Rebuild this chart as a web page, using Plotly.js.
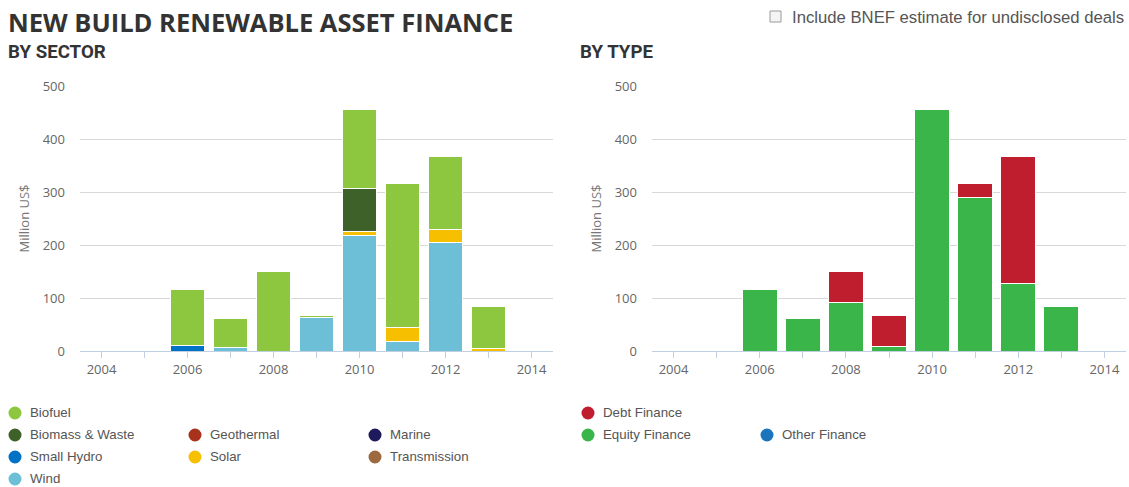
<!DOCTYPE html>
<html>
<head>
<meta charset="utf-8">
<script src="https://cdn.plot.ly/plotly-3.0.1.min.js"></script>
<style>
html,body{margin:0;padding:0;background:#fff;}
#chart{width:1129px;height:487px;}
</style>
</head>
<body>
<div id="chart"></div>
<script>
// ---------- DATA ----------
const years = [2004, 2005, 2006, 2007, 2008, 2009, 2010, 2011, 2012, 2013, 2014];

// By sector (Million US$)
const sectorNames = ["Biofuel", "Biomass & Waste", "Geothermal", "Marine", "Small Hydro", "Solar", "Transmission", "Wind"];
const sectorColors = ["#8dc63f", "#3e6129", "#a8321c", "#1f1a5e", "#0072c6", "#f6c000", "#9c6a3e", "#6cbfd6"];
const biofuel      = [null, null, 106, 55, 150, 3, 150, 271, 137, 79, null];
const biomassWaste = [null, null, null, null, null, null, 80, null, null, null, null];
const geothermal   = [null, null, null, null, null, null, null, null, null, null, null];
const marine       = [null, null, null, null, null, null, null, null, null, null, null];
const smallHydro   = [null, null, 10, null, null, null, null, null, null, null, null];
const solar        = [null, null, null, null, null, null, 8, 28, 26, 5, null];
const transmission = [null, null, null, null, null, null, null, null, null, null, null];
const wind         = [null, null, null, 6, null, 64, 218, 17, 204, null, null];
const sectorValues = [biofuel, biomassWaste, geothermal, marine, smallHydro, solar, transmission, wind];

// By type (Million US$)
const typeNames = ["Debt Finance", "Equity Finance", "Other Finance"];
const typeColors = ["#be1e2d", "#39b54a", "#1b75bc"];
const debtFinance   = [null, null, null, null, 59, 59, null, 26, 239, null, null];
const equityFinance = [null, null, 116, 61, 91, 8, 456, 290, 128, 84, null];
const otherFinance  = [null, null, null, null, null, null, null, null, null, null, null];
const typeValues = [debtFinance, equityFinance, otherFinance];

const xTickVals = [2004, 2006, 2008, 2010, 2012, 2014];
const yTickVals = [0, 100, 200, 300, 400, 500];

const mainTitle = "NEW BUILD RENEWABLE ASSET FINANCE";
const leftTitle = "BY SECTOR";
const rightTitle = "BY TYPE";
const yTitle = "Million US$";
const checkboxLabel = "Include BNEF estimate for undisclosed deals";

// ---------- LAYOUT HELPERS ----------
const W = 1129, H = 487;
const px = x => x / W;
const py = y => 1 - y / H;

const traces = [];
// Highcharts stacks first series on top -> add in reverse order
for (let i = sectorNames.length - 1; i >= 0; i--) {
  traces.push({
    type: "bar", x: years, y: sectorValues[i], name: sectorNames[i],
    marker: {color: sectorColors[i], line: {color: "#ffffff", width: 1}},
    xaxis: "x", yaxis: "y", showlegend: false, hoverinfo: "x+y+name"
  });
}
for (let i = typeNames.length - 1; i >= 0; i--) {
  traces.push({
    type: "bar", x: years, y: typeValues[i], name: typeNames[i],
    marker: {color: typeColors[i], line: {color: "#ffffff", width: 1}},
    xaxis: "x2", yaxis: "y2", showlegend: false, hoverinfo: "x+y+name"
  });
}

const tickFont = {family: "Open Sans", size: 13, color: "#666666"};

function xAxis(domain, anchor) {
  return {
    domain: domain, anchor: anchor, range: [2003.5, 2014.5],
    tickvals: xTickVals, ticktext: xTickVals.map(String),
    ticks: "outside", ticklen: 6, tickcolor: "#c0d0e0", tickwidth: 1,
    minor: {dtick: 1, tick0: 2004, ticks: "outside", ticklen: 6, tickcolor: "#c0d0e0", tickwidth: 1, showgrid: false},
    showline: true, linecolor: "#c0d0e0", linewidth: 1,
    showgrid: false, zeroline: false, tickfont: tickFont, fixedrange: true,
    ticklabelstandoff: 0
  };
}
function yAxis(domain, anchor) {
  return {
    domain: domain, anchor: anchor, range: [0, 500],
    tickvals: yTickVals, showgrid: true, gridcolor: "#d8d8d8", gridwidth: 1,
    zeroline: false, showline: false, ticks: "", tickfont: tickFont,
    ticklabelstandoff: 14, fixedrange: true,
    title: {text: yTitle, font: {family: "Open Sans", size: 13, color: "#777777"}, standoff: 10}
  };
}

const yDom = [py(351), py(86)];

const annotations = [
  {text: "<b>" + mainTitle + "</b>", x: px(6), y: py(3), xref: "paper", yref: "paper", xanchor: "left", yanchor: "top", showarrow: false,
   font: {family: "Open Sans", size: 25.5, color: "#333333", weight: 800}},
  {text: "<b>" + leftTitle + "</b>", x: px(6), y: py(39), xref: "paper", yref: "paper", xanchor: "left", yanchor: "top", showarrow: false,
   font: {family: "Roboto", size: 18.7, color: "#333333"}},
  {text: "<b>" + rightTitle + "</b>", x: px(578), y: py(39), xref: "paper", yref: "paper", xanchor: "left", yanchor: "top", showarrow: false,
   font: {family: "Roboto", size: 18.7, color: "#333333"}},
  {text: checkboxLabel, x: px(790), y: py(17), xref: "paper", yref: "paper", xanchor: "left", yanchor: "middle", showarrow: false,
   font: {family: "Liberation Sans", size: 16.7, color: "#555555"}}
];
const shapes = [
  {type: "rect", xref: "paper", yref: "paper", x0: px(770), x1: px(781), y0: py(22), y1: py(11),
   line: {color: "#9a9a9a", width: 1}, fillcolor: "#f4f4f4"}
];

// legend positions (layout only)
const sectorLegendPos = [[0,0],[0,1],[1,1],[2,1],[0,2],[1,2],[2,2],[0,3]]; // [col,row]
const leftColCircle = [15, 195, 375];
const rowY = [413, 435, 457, 479];
function addLegendItem(cx, cy, color, label) {
  const r = 6.5;
  shapes.push({type: "circle", xref: "paper", yref: "paper",
    x0: px(cx - r), x1: px(cx + r), y0: py(cy + r), y1: py(cy - r),
    fillcolor: color, line: {width: 0}});
  annotations.push({text: label, x: px(cx + 13), y: py(cy - 1), xref: "paper", yref: "paper",
    xanchor: "left", yanchor: "middle", showarrow: false,
    font: {family: "Liberation Sans", size: 13.3, color: "#555555"}});
}
sectorNames.forEach((n, i) => {
  const [c, r] = sectorLegendPos[i];
  addLegendItem(leftColCircle[c], rowY[r], sectorColors[i], n);
});
const typeLegendPos = [[0,0],[0,1],[1,1]];
const rightColCircle = [588, 767];
typeNames.forEach((n, i) => {
  const [c, r] = typeLegendPos[i];
  addLegendItem(rightColCircle[c], rowY[r], typeColors[i], n);
});

const layout = {
  width: W, height: H,
  margin: {l: 0, r: 0, t: 0, b: 0},
  paper_bgcolor: "#ffffff", plot_bgcolor: "#ffffff",
  barmode: "stack", bargap: 0.19,
  showlegend: false,
  xaxis: xAxis([px(80), px(553)], "y"),
  yaxis: yAxis(yDom, "x"),
  xaxis2: xAxis([px(652), px(1126)], "y2"),
  yaxis2: yAxis(yDom, "x2"),
  annotations: annotations,
  shapes: shapes
};

Plotly.newPlot("chart", traces, layout, {displayModeBar: false, staticPlot: true});
</script>
</body>
</html>
